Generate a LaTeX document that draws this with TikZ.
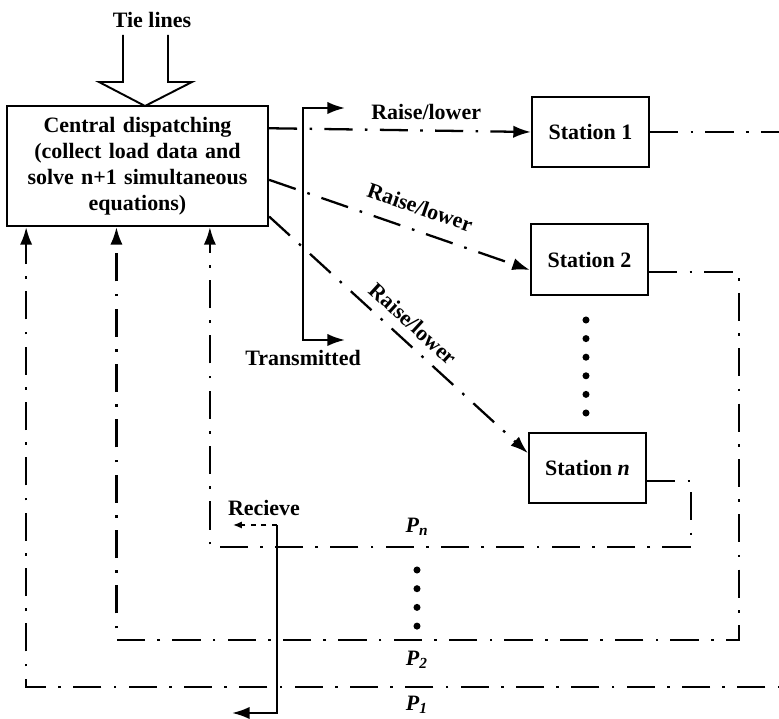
\documentclass[tikz,border=0pt]{standalone}
\usepackage{fontspec}
\setmainfont{Liberation Serif}
\usetikzlibrary{arrows.meta,positioning,calc}

\begin{document}
\begin{tikzpicture}[x=0.02cm, y=-0.02cm, line width=1.3pt, >={Latex[length=10pt,width=7pt]},
    every node/.style={font=\fontsize{12.5}{14.7}\selectfont\bfseries}]
    \tikzstyle{block} = [rectangle, draw, line width=1.3pt, text centered, inner sep=2pt]
    \tikzstyle{signal} = [dash pattern=on 16pt off 7pt on 1.5pt off 7pt]
    \useasboundingbox (0,0) rectangle (779,719);
    \clip (0,0) rectangle (779,719);

    % Blocks
    \node[block, minimum width=5.22cm, minimum height=2.4cm, text width=5cm] (central) at (137.5,166) {Central dispatching\\(collect load data and\\solve n+1 simultaneous\\equations)};
    \node[block, minimum width=2.34cm, minimum height=1.4cm] (st1) at (590.5,132) {Station 1};
    \node[block, minimum width=2.34cm, minimum height=1.42cm] (st2) at (589.5,259.5) {Station 2};
    \node[block, minimum width=2.34cm, minimum height=1.4cm] (stn) at (587.5,468) {Station \textit{n}};

    % Tie lines
    \node (tie) at (152,20) {Tie lines};
    \draw[line width=1.1pt] (123,35) -- (123,82) -- (99,82) -- (145,106) -- (192,82) -- (168,82) -- (168,35);

    % Transmitted
    \draw[<->] (345,108) -- (303,108) -- (303,340) -- (345,340);
    \node (trans) at (303,358) {Transmitted};

    % Raise/lower
    \draw[->, signal] (central.16) -- node[pos=0.6, above=2pt] (rl1) {Raise/lower} (st1.west);
    \draw[->, signal] (central.-6) -- node[pos=0.55, above=5pt, sloped] (rl2) {Raise/lower} (st2.190);
    \draw[->, signal] (central.-21) -- node[pos=0.51, above=2pt, sloped] (rl3) {Raise/lower} (stn.166);
    \foreach \y in {320,338.6,...,414} \fill (586,\y) circle (2pt);

    % Feedback
    \coordinate (pn) at (691,547);
    \coordinate (p2) at (739,640);
    \coordinate (p1) at (790,687);
    \draw[->, signal] (stn.-12) -| (pn) -| ($(central.south west)!0.775!(central.south east)$);
    \draw[->, signal] (st2.-12) -| (p2) -| ($(central.south west)!0.42!(central.south east)$);
    \draw[->, signal] (st1.east) -| (p1) -| ($(central.south west)!0.077!(central.south east)$);
    \node (lpn) at (417,527) {\textit{P}\textsubscript{\textit{n}}};
    \node (lp2) at (417,660) {\textit{P}\textsubscript{\textit{2}}};
    \node (lp1) at (417,705) {\textit{P}\textsubscript{\textit{1}}};
    \foreach \y in {570,588.7,...,627} \fill (417,\y) circle (2pt);

    % Recieve
    \node (rcv) at (264,508) {Recieve};
    \coordinate (rtop) at (277,525);
    \coordinate (rbot) at (277,713);
    \draw[->, dashed, line width=0.8pt, >={Latex[length=5pt,width=4pt]}] (rtop) -- (233,525);
    \draw[->] (rtop) -- (rbot) -- (232,713);
\end{tikzpicture}
\end{document}
